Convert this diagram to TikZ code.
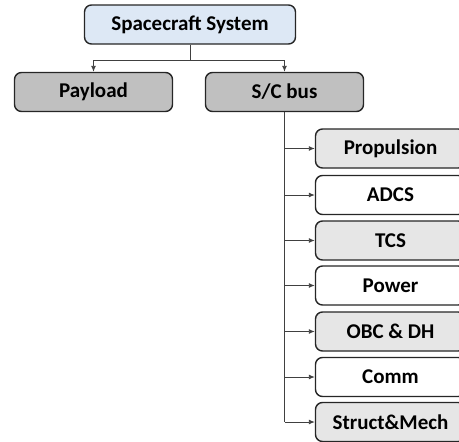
\documentclass[tikz,border=0pt]{standalone}
\usepackage{fontspec}
\setmainfont{Carlito}
\usetikzlibrary{arrows.meta}
\definecolor{topblue}{HTML}{DDE8F5}
\definecolor{midgray}{HTML}{C0C0C0}
\definecolor{subgray}{HTML}{E6E6E6}
\definecolor{edgecol}{HTML}{262626}
\definecolor{wire}{HTML}{404040}
\begin{document}
\begin{tikzpicture}[x=1pt,y=-1pt,
  box/.style={draw=edgecol, line width=1.4pt, rounded corners=7pt,
    font=\fontsize{21}{25}\selectfont\bfseries, inner sep=0pt,
    minimum height=39pt},
  topbox/.style={box, fill=topblue, minimum width=211pt},
  midbox/.style={box, fill=midgray, minimum width=158pt},
  subg/.style={box, fill=subgray, minimum width=150pt},
  subw/.style={box, fill=white, minimum width=150pt},
  conn/.style={draw=wire, line width=0.9pt},
  arr/.style={conn, -{Latex[length=6pt,width=5pt]}}]
\useasboundingbox (0,0) rectangle (459,442);
\node[topbox] (sys) at (190,24.5) {Spacecraft System};
\node[midbox] (pay) at (93.5,92) {Payload};
\node[midbox] (bus) at (284.5,92) {S/C bus};
\node[subg] (s1) at (390.5,148.5) {Propulsion};
\node[subw] (s2) at (390.5,195) {ADCS};
\node[subg] (s3) at (390.5,240.5) {TCS};
\node[subw] (s4) at (390.5,285.5) {Power};
\node[subg] (s5) at (390.5,331.5) {OBC \& DH};
\node[subw] (s6) at (390.5,377) {Comm};
\node[subg] (s7) at (390.5,422) {Struct\&Mech};
\draw[conn] (sys.south) -- ++(0,15.5) coordinate (j);
\draw[arr] (j) -| (pay.north);
\draw[arr] (j) -| (bus.north);
\draw[conn] (bus.south) -- (bus.south |- s7.west);
\foreach \s in {s1,s2,s3,s4,s5,s6,s7}
  \draw[arr] (bus.south |- \s.west) -- (\s.west);
\end{tikzpicture}
\end{document}
